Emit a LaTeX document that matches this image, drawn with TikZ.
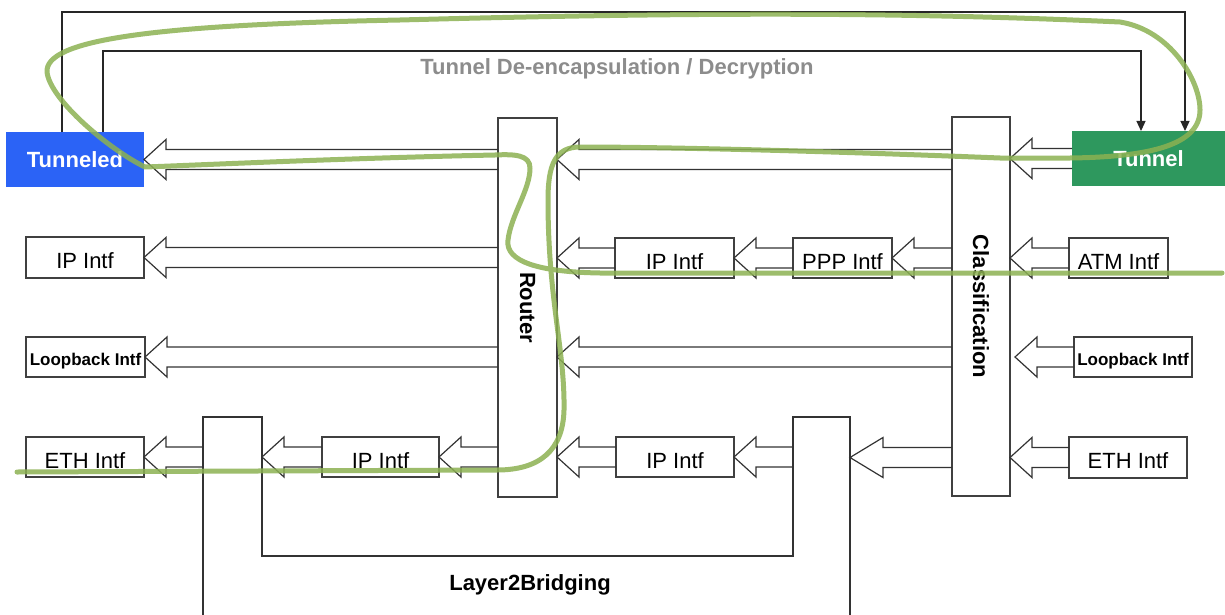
\documentclass[tikz,border=0pt]{standalone}
\usepackage{fontspec}
\setmainfont{Liberation Sans}
\usetikzlibrary{arrows.meta,calc}
\definecolor{tunblue}{HTML}{2B63F6}
\definecolor{tungreen}{HTML}{2E985E}
\definecolor{marker}{HTML}{8CB152}

% hollow block arrow, pointing left: #2 = tail point, #3 = tip point
\newcommand{\fatarrow}[3][22]{%
  \draw[fat] let \p1=(#2), \p2=(#3) in
    (\x1,\y2+10pt) -- (\x2+#1pt,\y2+10pt) -- (\x2+#1pt,\y2+20pt) -- (\x2,\y2)
    -- (\x2+#1pt,\y2-20pt) -- (\x2+#1pt,\y2-10pt) -- (\x1,\y2-10pt);}

\begin{document}
\begin{tikzpicture}[x=1pt, y=-1pt, >={Triangle[width=9pt,length=10pt]},
    every node/.style={inner sep=0pt, outer sep=0pt, font=\fontsize{22}{26}\selectfont},
    box/.style={draw=black!75, line width=1.2pt, fill=white, minimum height=40pt, text height=22pt, text depth=0pt},
    lo/.style={font=\fontsize{17}{20}\selectfont\bfseries, text height=16pt},
    tun/.style={text=white, font=\fontsize{22}{26}\selectfont\bfseries, minimum height=55pt},
    bold/.style={font=\fontsize{22}{26}\selectfont\bfseries},
    fat/.style={draw=black!80, line width=1.2pt},
    link/.style={draw=black!85, line width=1.2pt, ->},
    pen/.style={draw=marker, line width=5pt, line cap=round, line join=round, opacity=0.85}]
  \useasboundingbox (0,0) rectangle (1225,615);

  % tunnel end points
  \node[tun, fill=tunblue, minimum width=138pt] (tunneled) at (75,159.5) {Tunneled};
  \node[tun, fill=tungreen, minimum width=153pt] (tunnel) at (1148.5,158.5) {Tunnel};
  \node[bold, text=black!45] (declbl) at (617,69) {Tunnel De-encapsulation / Decryption};

  % router and classification
  \node[box, minimum width=59pt, minimum height=379pt] (router) at (527.5,307.5) {};
  \node[bold, rotate=-90] (routerlbl) at (router.center) {Router};
  \node[box, minimum width=58pt, minimum height=379pt] (cls) at (981,306.5) {};
  \node[bold, rotate=-90] (clslbl) at (cls.center) {Classification};

  % interfaces
  \node[box, minimum width=118pt, minimum height=41pt] (ipL) at (85,257.5) {IP Intf};
  \node[box, lo, minimum width=119pt] (loL) at (85.5,357) {Loopback Intf};
  \node[box, minimum width=118pt] (ethL) at (85,457) {ETH Intf};
  \node[box, minimum width=119pt] (ipM) at (674.5,258) {IP Intf};
  \node[box, minimum width=99pt] (ppp) at (842.5,258) {PPP Intf};
  \node[box, minimum width=99pt] (atm) at (1118.5,258) {ATM Intf};
  \node[box, lo, minimum width=118pt] (loR) at (1133,357) {Loopback Intf};
  \node[box, minimum width=118pt, minimum height=41pt] (ethR) at (1128,457.5) {ETH Intf};
  \node[box, minimum width=117pt] (ipB) at (380.5,457) {IP Intf};
  \node[box, minimum width=118pt] (ipR) at (675,457) {IP Intf};

  % layer 2 bridge
  \node[minimum width=59pt, minimum height=198pt] (barL) at (232.5,516) {};
  \node[minimum width=57pt, minimum height=198pt] (barR) at (821.5,516) {};
  \coordinate (floor) at (0,556);
  \draw[fat] (barL.south west) -- (barL.north west) -- (barL.north east) -- (barL.east |- floor)
    -- (barR.west |- floor) -- (barR.north west) -- (barR.north east) -- (barR.south east);
  \node[bold] (bridgelbl) at (530,585) {Layer2Bridging};

  \draw[link] ([xshift=56pt]tunneled.north west) -- ++(0,-120) -| ([xshift=36.5pt]tunnel.north);
  \draw[link] ([xshift=97pt]tunneled.north west) -- ++(0,-81) -| ([xshift=-7.5pt]tunnel.north);

  \fatarrow{router.west |- tunneled}{tunneled.east}
  \fatarrow{cls.west |- tunneled}{router.east |- tunneled}
  \fatarrow{tunnel.west}{cls.east |- tunnel}
  \fatarrow{router.west |- ipL}{ipL.east}
  \fatarrow{ipM.west}{router.east |- ipM}
  \fatarrow{ppp.west}{ipM.east}
  \fatarrow{cls.west |- ppp}{ppp.east}
  \fatarrow{atm.west}{cls.east |- atm}
  \fatarrow{router.west |- loL}{loL.east}
  \fatarrow{cls.west |- loL}{router.east |- loL}
  \fatarrow{loR.west}{$(cls.east |- loR)+(5,0)$}
  \fatarrow{barL.west |- ethL}{ethL.east}
  \fatarrow{ipB.west}{barL.east |- ipB}
  \fatarrow{router.west |- ipB}{ipB.east}
  \fatarrow{ipR.west}{router.east |- ipR}
  \fatarrow{barR.west |- ipR}{ipR.east}
  \fatarrow[33]{cls.west |- ethR}{barR.east |- ethR}
  \fatarrow{ethR.west}{cls.east |- ethR}

  % hand-drawn packet path
  \draw[pen] (1222,273) -- (600,273) .. controls (540,272) and (505,262) .. (508,240)
    .. controls (511,215) and (530,190) .. (530,168) .. controls (530,155) and (515,154) .. (495,155)
    .. controls (350,158) and (200,165) .. (145,167) .. controls (110,150) and (50,100) .. (47,72)
    .. controls (45,40) and (150,25) .. (400,20) .. controls (700,12) and (900,12) .. (1120,22)
    .. controls (1170,30) and (1200,80) .. (1200,110) .. controls (1200,145) and (1150,157) .. (1070,158)
    -- (1000,158) .. controls (800,150) and (650,147) .. (580,147) .. controls (555,147) and (548,165) .. (548,200)
    .. controls (548,300) and (565,350) .. (564,410) .. controls (563,450) and (540,470) .. (497,470) -- (17,472);
\end{tikzpicture}
\end{document}
